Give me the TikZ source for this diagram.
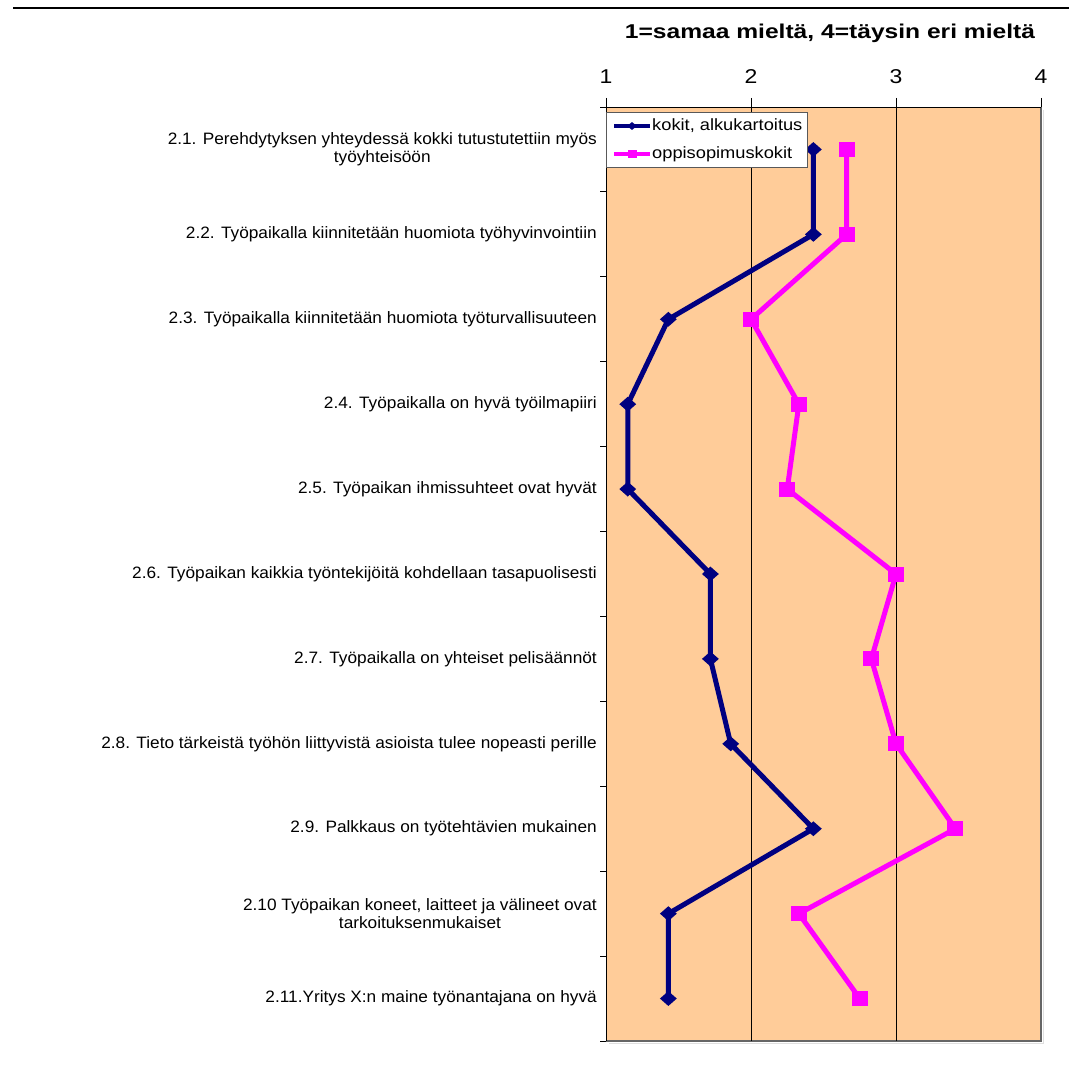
\documentclass[tikz,border=0pt]{standalone}
\usepackage{fontspec}
\setmainfont{Liberation Sans}
\usetikzlibrary{shapes.geometric}
\definecolor{plotbg}{HTML}{FFCC99}
\definecolor{navyline}{HTML}{000080}
\definecolor{magline}{HTML}{FF00FF}
\begin{document}
\begin{tikzpicture}[x=1pt,y=-1pt,
  catlabel/.style={anchor=east,align=center,font=\fontsize{16.5}{18.5}\selectfont,inner sep=0pt,xscale=1.045,transform shape},
  axnum/.style={font=\fontsize{20}{22}\selectfont,inner sep=0pt,xscale=1.15,transform shape},
  navyseries/.style={draw=navyline,line width=5pt,line join=round},
  magseries/.style={draw=magline,line width=5pt,line join=round},
  navymark/.style={diamond,fill=navyline,minimum width=17pt,minimum height=15pt,inner sep=0pt},
  magmark/.style={rectangle,fill=magline,minimum width=16pt,minimum height=15pt,inner sep=0pt},
  legtext/.style={anchor=west,font=\fontsize{16.3}{18}\selectfont,inner sep=0pt,xscale=1.12,transform shape},
  gridline/.style={draw=black,line width=0.9pt}]
\useasboundingbox (0,0) rectangle (1069,1065);

% rule across the top of the page
\draw[line width=1.6pt] (13,8) -- (1069,8);

% plot area with shadowed frame
\fill[plotbg] (606,107) rectangle (1041,1041);
\draw[gray!25,line width=1.5pt] (1043.5,110) -- (1043.5,1043.5) -- (609,1043.5);
\draw[gray!80!black,line width=1.2pt] (1041,107) -- (1041,1041) -- (606,1041);
\draw[gridline] (751,107) -- (751,1041);
\draw[gridline] (896,107) -- (896,1041);

% value axis along the top
\draw[line width=0.9pt] (600,107) -- (1041,107);
\foreach \v/\px in {1/606,2/751,3/896,4/1041}{
  \draw[line width=0.9pt] (\px,98) -- (\px,107);
  \node[axnum] (num\v) at (\px,77) {\v};
}
\node[font=\bfseries\fontsize{20}{22}\selectfont,inner sep=0pt,xscale=1.23,transform shape] (title) at (830,33) {1=samaa mieltä, 4=täysin eri mieltä};

% category axis on the left
\draw[line width=0.9pt] (606,107) -- (606,1041);
\foreach \k in {0,...,11}{
  \draw[line width=0.9pt] (600,{107+84.909*\k}) -- (606,{107+84.909*\k});
}

% category labels
\foreach \k/\txt in {
  1/{2.1. Perehdytyksen yhteydessä kokki tutustutettiin myös\\työyhteisöön},
  2/{2.2. Työpaikalla kiinnitetään huomiota työhyvinvointiin},
  3/{2.3. Työpaikalla kiinnitetään huomiota työturvallisuuteen},
  4/{2.4. Työpaikalla on hyvä työilmapiiri},
  5/{2.5. Työpaikan ihmissuhteet ovat hyvät},
  6/{2.6. Työpaikan kaikkia työntekijöitä kohdellaan tasapuolisesti},
  7/{2.7. Työpaikalla on yhteiset pelisäännöt},
  8/{2.8. Tieto tärkeistä työhön liittyvistä asioista tulee nopeasti perille},
  9/{2.9. Palkkaus on työtehtävien mukainen},
  10/{2.10 Työpaikan koneet, laitteet ja välineet ovat\\tarkoituksenmukaiset},
  11/{2.11.Yritys X:n maine työnantajana on hyvä}}{
  \node[catlabel] (lab\k) at (597,{107+84.909*(\k-0.5)}) {\txt};
}

% data points: kokit, alkukartoitus
\foreach \k/\v in {1/2.43,2/2.43,3/1.43,4/1.15,5/1.15,6/1.72,7/1.72,8/1.86,9/2.43,10/1.43,11/1.43}{
  \coordinate (a\k) at ({606+145*(\v-1)},{107+84.909*(\k-0.5)});
}
% data points: oppisopimuskokit
\foreach \k/\v in {1/2.66,2/2.66,3/2.0,4/2.33,5/2.25,6/3.0,7/2.83,8/3.0,9/3.41,10/2.33,11/2.75}{
  \coordinate (b\k) at ({606+145*(\v-1)},{107+84.909*(\k-0.5)});
}

\draw[navyseries] (a1) -- (a2) -- (a3) -- (a4) -- (a5) -- (a6) -- (a7) -- (a8) -- (a9) -- (a10) -- (a11);
\draw[magseries] (b1) -- (b2) -- (b3) -- (b4) -- (b5) -- (b6) -- (b7) -- (b8) -- (b9) -- (b10) -- (b11);
\foreach \k in {1,...,11}{
  \node[navymark] (ma\k) at (a\k) {};
  \node[magmark] (mb\k) at (b\k) {};
}

% legend
\node[draw=gray!70!black,fill=white,line width=0.9pt,minimum width=201pt,minimum height=55pt,anchor=north west,inner sep=0pt] (legend) at (606,112) {};
\coordinate (la0) at (614,126);
\coordinate (la1) at (650,126);
\coordinate (lb0) at (614,154);
\coordinate (lb1) at (650,154);
\draw[navyseries,line width=4pt] (la0) -- (la1);
\node[navymark,minimum width=10pt,minimum height=8pt] (lam) at (632,126) {};
\draw[magseries,line width=4pt] (lb0) -- (lb1);
\node[magmark,minimum width=9pt,minimum height=8pt] (lbm) at (632,154) {};
\node[legtext] (lta) at (652,126) {kokit, alkukartoitus};
\node[legtext] (ltb) at (652,154) {oppisopimuskokit};
\end{tikzpicture}
\end{document}
